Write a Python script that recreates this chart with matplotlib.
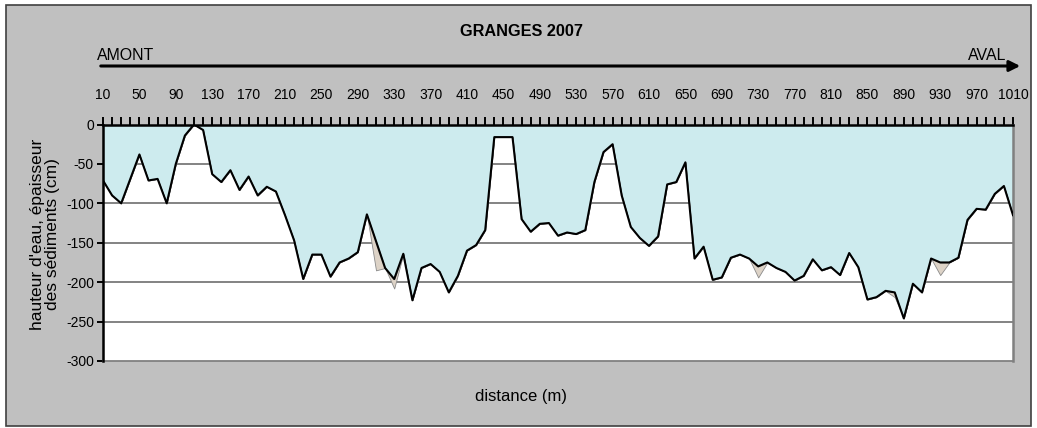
"""
Profil en long GRANGES 2007 : hauteur d'eau et épaisseur des sédiments
"""
import numpy as np
import matplotlib
matplotlib.use("Agg")
import matplotlib.pyplot as plt
from matplotlib.patches import Rectangle, FancyArrowPatch

# distance le long du tronçon (m), un point tous les 10 m
distance = list(range(10, 1020, 10))

# hauteur d'eau (cm, comptée vers le bas depuis la surface)
eau = [
    -71, -90, -100, -69, -38, -71, -69, -100, -50, -14,
    0, -7, -63, -73, -58, -83, -66, -90, -79, -85,
    -115, -147, -196, -165, -165, -193, -175, -170, -162, -114,
    -148, -182, -196, -164, -223, -182, -177, -187, -213, -192,
    -160, -153, -134, -16, -16, -16, -120, -136, -126, -125,
    -141, -137, -139, -134, -73, -35, -25, -90, -130, -144,
    -154, -142, -76, -73, -48, -170, -155, -197, -194, -169,
    -165, -170, -180, -175, -182, -187, -198, -192, -171, -185,
    -181, -191, -163, -181, -222, -219, -211, -213, -246, -202,
    -213, -170, -175, -175, -169, -121, -107, -108, -88, -78,
    -115,
]

# épaisseur des sédiments sous la lame d'eau (cm)
sediments = [0] * 101
sediments[30] = 37
sediments[32] = 12
sediments[72] = 14
sediments[87] = 6
sediments[92] = 16

x_labels = list(range(10, 1020, 40))
y_ticks = [0, -50, -100, -150, -200, -250, -300]

W, H = 1037, 428
plain = ["Liberation Sans", "DejaVu Sans"]

fig = plt.figure(figsize=(W / 100, H / 100), dpi=100, facecolor="white")
fig.add_artist(Rectangle((6 / W, 1 - 426 / H), 1025 / W, 421 / H,
                         transform=fig.transFigure, facecolor="#c0c0c0",
                         edgecolor="#404040", lw=1.2, zorder=0))

ax = fig.add_axes([103 / W, 1 - 361 / H, 910 / W, 236.5 / H])
ax.set_facecolor("white")

x = np.array(distance, dtype=float)
eau = np.array(eau, dtype=float)
fond = eau - np.array(sediments, dtype=float)

for v in y_ticks[1:-1]:
    ax.axhline(v, color="#7a7a7a", lw=1.3, zorder=1)

ax.fill_between(x, 0, eau, facecolor="#cdebee", edgecolor="none", zorder=2)
ax.fill_between(x, eau, fond, facecolor="#ddd3c7", edgecolor="#8a8a8a",
                lw=0.6, zorder=3)
ax.plot(x, eau, color="black", lw=1.5, zorder=4)

ax.set_xlim(10, 1010)
ax.set_ylim(-300, 0)

ax.xaxis.tick_top()
ax.set_xticks(x_labels)
ax.set_xticklabels([str(v) for v in x_labels], family=plain, fontsize=10)
ax.set_xticks(distance, minor=True)
ax.tick_params(axis="x", which="both", top=True, bottom=False,
               labeltop=True, labelbottom=False, direction="out",
               length=6, width=1.4, pad=10)

ax.set_yticks(y_ticks)
ax.set_yticklabels([str(v) for v in y_ticks], family=plain, fontsize=10)
ax.tick_params(axis="y", direction="out", length=4.5, width=1.4, pad=2)

ax.spines["top"].set_linewidth(1.8)
ax.spines["left"].set_linewidth(1.8)
ax.spines["top"].set_zorder(5)
ax.spines["left"].set_zorder(5)
ax.spines["right"].set_color("#808080")
ax.spines["right"].set_linewidth(1.8)
ax.spines["bottom"].set_color("#808080")
ax.spines["bottom"].set_linewidth(1.3)

# titre, sens d'écoulement et légendes d'axes
fig.text(522 / W, 1 - 31 / H, "GRANGES 2007", family=plain, weight="bold",
         fontsize=11.7, ha="center", va="center")
fig.add_artist(FancyArrowPatch((98 / W, 1 - 66 / H), (1023 / W, 1 - 66 / H),
                               transform=fig.transFigure, arrowstyle="-|>",
                               mutation_scale=16, lw=2.2, color="black"))
fig.text(97 / W, 1 - 55 / H, "AMONT", family=plain, fontsize=11.4,
         ha="left", va="center")
fig.text(1006 / W, 1 - 56 / H, "AVAL", family=plain, fontsize=11.4,
         ha="right", va="center")
fig.text(45 / W, 1 - 234 / H, "hauteur d'eau, épaisseur\ndes sédiments (cm)",
         family=plain, fontsize=12.5, rotation=90, ha="center", va="center",
         linespacing=0.95)
fig.text(521 / W, 1 - 397 / H, "distance (m)", family=plain, fontsize=12,
         ha="center", va="center")

fig.savefig("out.png", dpi=100, facecolor=fig.get_facecolor())
